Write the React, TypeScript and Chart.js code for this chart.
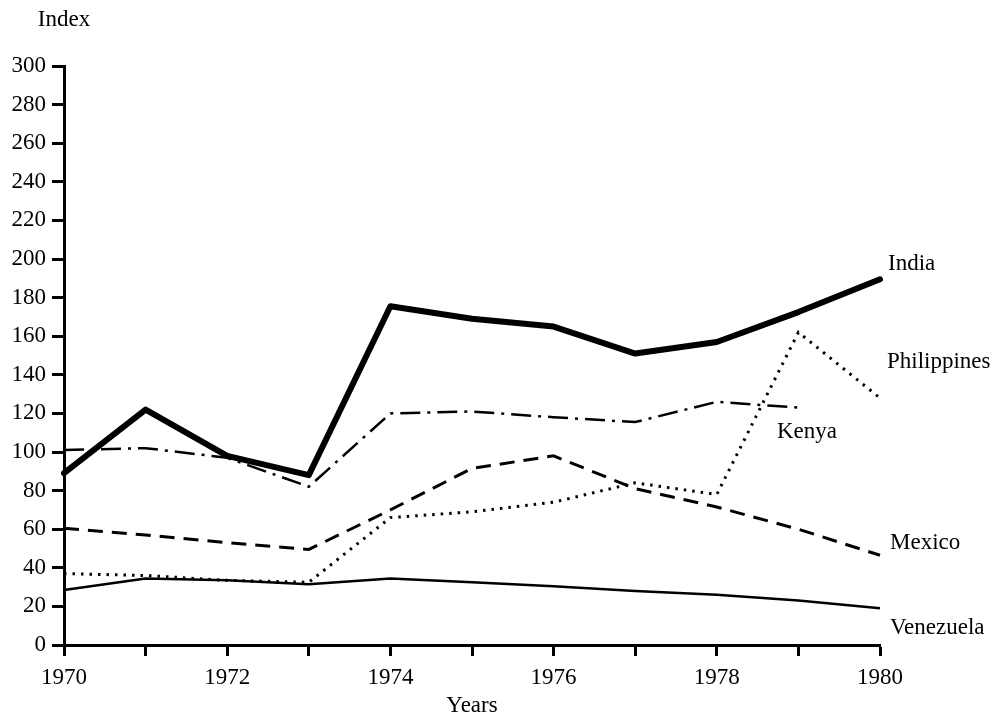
import React, { useEffect, useRef } from 'react';
import { Chart, registerables } from 'chart.js';

Chart.register(...registerables);

const years = ['1970', '1971', '1972', '1973', '1974', '1975', '1976', '1977', '1978', '1979', '1980'];
const india = [89, 122, 98, 88, 175.5, 169, 165, 151, 157, 172.5, 189.5];
const kenya = [101, 102, 97, 82, 120, 121, 118, 115.5, 126, 123, null];
const mexico = [60.5, 57, 53, 49.5, 70, 91.5, 98, 81, 71.5, 60, 46.5];
const philippines = [37, 36, 33.5, 32.5, 66, 69, 74, 84, 78, 162, 128];
const venezuela = [28.5, 34.5, 33.5, 31.5, 34.5, 32.5, 30.5, 28, 26, 23, 19];
const yMin = 0;
const yMax = 300;
const yStep = 20;
const seriesNames = ['India', 'Philippines', 'Kenya', 'Mexico', 'Venezuela'];

const FONT = '"Liberation Serif", "Times New Roman", serif';

// text annotation placement (pixel offsets relative to chart area)
const labelPlacement: Record<string, { dx: number; dy: number }> = {
  India: { dx: 8, dy: 198 },
  Philippines: { dx: 7, dy: 296 },
  Kenya: { dx: -103, dy: 366 },
  Mexico: { dx: 10, dy: 477 },
  Venezuela: { dx: 10, dy: 562 },
};

const textPlugin = {
  id: 'textLabels',
  afterDraw(chart: any) {
    const { ctx, chartArea } = chart;
    ctx.save();
    ctx.fillStyle = '#000';
    ctx.font = `23px ${FONT}`;
    ctx.textBaseline = 'middle';
    ctx.textAlign = 'left';
    for (const name of seriesNames) {
      const p = labelPlacement[name];
      ctx.fillText(name, chartArea.right + p.dx, chartArea.top + p.dy);
    }
    ctx.textAlign = 'center';
    ctx.fillText('Index', chartArea.left, 20);
    ctx.fillText('Years', (chartArea.left + chartArea.right) / 2, 706);
    ctx.restore();
  },
};

export default function App() {
  const ref = useRef<HTMLCanvasElement | null>(null);

  useEffect(() => {
    if (!ref.current) return;
    const common = { borderColor: '#000', pointRadius: 0, tension: 0, fill: false, spanGaps: false };
    const chart = new Chart(ref.current, {
      type: 'line',
      data: {
        labels: years,
        datasets: [
          { ...common, label: 'India', data: india, borderWidth: 6, borderJoinStyle: 'round', borderCapStyle: 'round' },
          { ...common, label: 'Kenya', data: kenya, borderWidth: 2.5, borderDash: [20, 7, 3, 7] },
          { ...common, label: 'Mexico', data: mexico, borderWidth: 3, borderDash: [15, 9] },
          { ...common, label: 'Philippines', data: philippines, borderWidth: 3, borderDash: [2.5, 6] },
          { ...common, label: 'Venezuela', data: venezuela, borderWidth: 2.5 },
        ],
      } as any,
      options: {
        animation: false,
        responsive: false,
        devicePixelRatio: 1,
        layout: { padding: { top: 66, right: 119, left: 0, bottom: 0 } },
        plugins: { legend: { display: false }, tooltip: { enabled: false } },
        scales: {
          x: {
            type: 'category',
            offset: false,
            border: { display: true, color: '#000', width: 3 },
            grid: { drawOnChartArea: false, drawTicks: true, tickLength: 11, tickWidth: 3, tickColor: '#000' },
            ticks: {
              autoSkip: false,
              maxRotation: 0,
              minRotation: 0,
              padding: 8,
              color: '#000',
              font: { family: FONT, size: 23 },
              callback: (_v: any, i: number) => (i % 2 === 0 ? years[i] : ''),
            },
            afterFit: (s: any) => {
              s.height = 73;
            },
          },
          y: {
            type: 'linear',
            min: yMin,
            max: yMax,
            border: { display: true, color: '#000', width: 3 },
            grid: { drawOnChartArea: false, drawTicks: true, tickLength: 12, tickWidth: 3, tickColor: '#000' },
            ticks: {
              stepSize: yStep,
              padding: 6,
              color: '#000',
              font: { family: FONT, size: 23 },
            },
            afterFit: (s: any) => {
              s.width = 64;
            },
          },
        },
      } as any,
      plugins: [textPlugin],
    });
    return () => chart.destroy();
  }, []);

  return (
    <div style={{ position: 'fixed', left: 0, top: 0, width: 999, height: 718, background: '#fff' }}>
      <canvas ref={ref} width={999} height={718} style={{ width: 999, height: 718, display: 'block' }} />
    </div>
  );
}
